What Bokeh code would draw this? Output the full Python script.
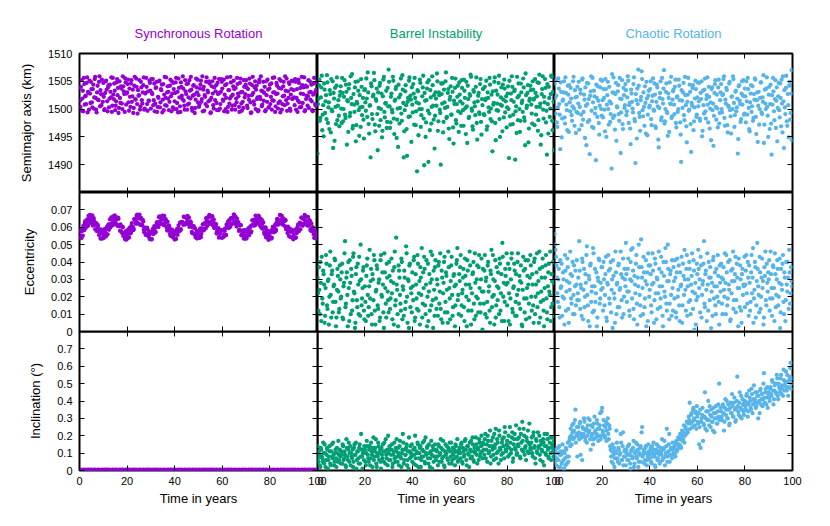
import numpy as np
from bokeh.plotting import figure
from bokeh.layouts import column, row
from bokeh.models import LinearAxis, FixedTicker, Range1d, CustomJSTickFormatter
from bokeh.embed import file_html
from bokeh.resources import INLINE

# ---------------- data ----------------
titles = ["Synchronous Rotation", "Barrel Instability", "Chaotic Rotation"]
colors = ["#9400d3", "#009e73", "#56b4e9"]
y_labels = ["Semimajor axis (km)", "Eccentricity", "Inclination (°)"]
x_label = "Time in years"
x_limits = (0, 100)
x_ticks = [0, 20, 40, 60, 80, 100]
y_limits = [(1485, 1510), (0, 0.08), (0, 0.8)]
y_ticks = [
    [1490, 1495, 1500, 1505, 1510],
    [0, 0.01, 0.02, 0.03, 0.04, 0.05, 0.06, 0.07],
    [0, 0.1, 0.2, 0.3, 0.4, 0.5, 0.6, 0.7],
]

# Each series is sampled evenly over the 100 years; the "*_b" lists are the
# samples taken half a step later than the main ones.

# semimajor axis (km)
sync_a = [
    1503.8, 1500.4, 1505.2, 1501.9, 1499.6, 1504.5, 1502.3, 1500.9, 1505.7, 1503.1, 1499.9, 1502.8, 1504.9, 1501.2, 1503.6, 1500.1, 1505.4, 1502.0, 1499.4, 1504.2, 1501.6, 1505.9, 1503.4, 1500.7, 1502.6,
    1504.7, 1499.8, 1502.9, 1505.1, 1501.4, 1503.9, 1500.3, 1504.4, 1502.1, 1499.5, 1505.6, 1501.8, 1503.3, 1500.6, 1504.8, 1502.5, 1499.3, 1505.0, 1501.1, 1503.7, 1500.0, 1504.1, 1502.7, 1505.5, 1500.8,
    1503.0, 1505.3, 1499.7, 1502.2, 1504.6, 1501.3, 1503.5, 1500.2, 1505.8, 1501.7, 1504.0, 1499.2, 1502.4, 1505.2, 1500.5, 1503.9, 1501.0, 1504.3, 1499.9, 1502.8, 1505.6, 1500.9, 1503.2, 1501.5, 1504.7,
    1500.1, 1502.9, 1505.4, 1501.6, 1499.6, 1503.8, 1504.9, 1500.4, 1502.0, 1505.1, 1501.2, 1503.4, 1499.4, 1504.5, 1502.6, 1500.7, 1505.7, 1503.0, 1501.9, 1499.8, 1504.2, 1502.3, 1505.0, 1500.3, 1503.6,
    1501.4, 1504.8, 1500.0, 1503.1, 1505.5, 1502.1, 1499.5, 1504.0, 1501.8, 1503.7, 1500.6, 1505.2, 1502.7, 1499.9, 1504.6, 1501.0, 1503.3, 1505.8, 1500.2, 1502.4, 1504.3, 1499.3, 1501.7, 1503.9, 1505.3,
    1502.5, 1500.8, 1504.4, 1501.3, 1505.9, 1503.5, 1499.7, 1502.2, 1504.9, 1500.5, 1503.0, 1505.0, 1501.6, 1499.4, 1504.1, 1502.8, 1500.1, 1505.6, 1503.2, 1501.1, 1504.7, 1499.8, 1502.9, 1500.9, 1505.4,
    1503.7, 1501.5, 1499.6, 1504.3, 1502.0, 1505.7, 1500.4, 1503.4, 1501.9, 1504.8, 1499.9, 1502.6, 1505.1, 1500.7, 1503.8, 1501.2, 1504.5, 1502.3, 1499.5, 1505.5, 1501.0, 1503.1, 1500.2, 1504.0, 1502.7,
    1505.2, 1500.6, 1503.6, 1501.7, 1504.6, 1499.3, 1502.5, 1505.8, 1501.4, 1503.9, 1500.0, 1504.2, 1502.1, 1499.8, 1505.3, 1501.8, 1503.3, 1500.8, 1504.9, 1502.9, 1499.6, 1505.0, 1501.3, 1503.5, 1500.3,
    1504.4, 1502.2, 1499.9, 1505.6, 1501.5, 1503.0, 1500.5, 1504.7, 1502.8, 1501.1, 1505.4, 1499.4, 1503.7, 1500.9, 1504.1, 1502.4, 1505.9, 1501.6, 1499.7, 1503.2, 1504.8, 1500.1, 1502.6, 1505.1, 1501.9,
    1503.4, 1500.7, 1504.9, 1502.0, 1499.5, 1505.3, 1501.2, 1503.8, 1500.4, 1504.3, 1502.7, 1505.7, 1499.8, 1501.8, 1504.0, 1502.3, 1500.2, 1505.0, 1503.1, 1501.4, 1499.6, 1504.6, 1502.9, 1500.6, 1503.5,
]
sync_a_b = [
    1501.5, 1504.0, 1499.7, 1503.3, 1505.6, 1500.8, 1502.4, 1504.7, 1499.4, 1502.9, 1505.1, 1501.1, 1503.6, 1500.3, 1504.4, 1502.1, 1505.8, 1499.9, 1503.0, 1501.7, 1504.9, 1500.5, 1502.7, 1505.3, 1501.3,
    1502.2, 1500.0, 1505.0, 1503.5, 1499.6, 1504.3, 1501.9, 1503.1, 1505.7, 1500.6, 1502.6, 1504.6, 1499.8, 1501.4, 1505.4, 1503.8, 1500.2, 1502.0, 1504.1, 1501.0, 1505.9, 1503.2, 1499.5, 1504.8, 1502.8,
    1504.5, 1501.2, 1503.7, 1500.4, 1505.2, 1502.3, 1499.3, 1504.2, 1501.8, 1505.5, 1500.9, 1503.4, 1502.5, 1499.9, 1504.9, 1501.6, 1503.0, 1505.7, 1500.1, 1502.9, 1504.0, 1499.7, 1501.5, 1505.1, 1503.3,
    1505.4, 1502.7, 1500.7, 1504.6, 1501.0, 1503.9, 1499.5, 1502.2, 1505.0, 1500.3, 1503.6, 1504.4, 1501.7, 1499.8, 1505.8, 1502.0, 1500.6, 1504.1, 1503.1, 1501.3, 1505.3, 1499.6, 1502.8, 1504.7, 1500.0,
    1502.9, 1505.6, 1501.1, 1499.4, 1503.8, 1500.5, 1504.8, 1502.4, 1505.9, 1501.5, 1499.9, 1503.2, 1504.5, 1500.8, 1502.1, 1505.2, 1501.9, 1503.5, 1499.7, 1504.2, 1502.6, 1500.2, 1505.5, 1503.0, 1501.2,
    1500.4, 1503.7, 1505.1, 1501.8, 1499.6, 1504.0, 1502.5, 1500.9, 1505.7, 1503.3, 1501.4, 1504.6, 1499.3, 1502.0, 1505.0, 1500.7, 1503.9, 1501.6, 1504.3, 1499.8, 1502.7, 1505.4, 1500.1, 1503.1, 1504.9,
    1501.7, 1505.3, 1502.6, 1500.0, 1504.5, 1499.5, 1503.4, 1501.0, 1505.8, 1502.3, 1500.6, 1504.1, 1503.6, 1499.9, 1501.9, 1505.6, 1502.8, 1500.4, 1504.7, 1503.0, 1499.7, 1501.3, 1505.2, 1502.1, 1504.4,
    1503.9, 1500.2, 1502.4, 1505.5, 1501.2, 1499.4, 1504.3, 1502.9, 1500.8, 1505.0, 1503.5, 1501.8, 1499.6, 1504.8, 1502.2, 1505.9, 1500.5, 1503.2, 1501.5, 1504.0, 1499.8, 1502.5, 1505.3, 1500.3, 1503.7,
    1500.9, 1504.6, 1501.6, 1503.0, 1505.7, 1499.5, 1502.7, 1504.2, 1500.1, 1503.8, 1501.4, 1505.1, 1499.9, 1502.3, 1504.9, 1500.7, 1503.3, 1505.5, 1501.0, 1502.0, 1504.5, 1499.7, 1503.6, 1501.8, 1505.0,
    1502.1, 1505.4, 1499.9, 1503.6, 1501.5, 1504.7, 1500.3, 1502.8, 1505.8, 1501.1, 1503.9, 1499.6, 1504.2, 1502.4, 1500.6, 1505.2, 1503.0, 1501.7, 1504.4, 1499.8, 1502.6, 1505.6, 1500.9, 1503.4, 1504.8,
]
barrel_a = [
    1492.0, 1501.8, 1505.3, 1498.4, 1503.9, 1496.2, 1500.7, 1504.6, 1499.3, 1502.5, 1506.1, 1497.5, 1501.2, 1503.4, 1495.8, 1499.9, 1505.0, 1502.9, 1494.3, 1500.4, 1504.2, 1498.0, 1501.6, 1496.9, 1503.1,
    1500.1, 1505.6, 1497.8, 1502.2, 1499.0, 1504.4, 1493.6, 1501.4, 1503.7, 1498.7, 1505.9, 1500.9, 1496.5, 1502.7, 1499.5, 1504.9, 1497.1, 1501.0, 1503.3, 1495.2, 1500.3, 1505.4, 1498.9, 1502.0, 1494.7,
    1503.6, 1499.7, 1501.9, 1506.6, 1497.3, 1500.6, 1491.3, 1504.1, 1498.2, 1502.6, 1505.2, 1496.0, 1501.5, 1499.1, 1503.0, 1497.0, 1504.7, 1500.0, 1494.9, 1502.3, 1505.8, 1498.5, 1501.1, 1496.6, 1503.8,
    1507.1, 1500.5, 1497.6, 1502.8, 1499.4, 1505.1, 1495.5, 1501.7, 1504.0, 1498.1, 1493.2, 1502.1, 1500.2, 1505.5, 1497.9, 1503.5, 1491.3, 1499.8, 1504.3, 1496.4, 1501.3, 1498.6, 1505.7, 1502.4, 1494.1,
    1500.8, 1504.5, 1497.2, 1502.0, 1499.6, 1488.8, 1503.2, 1501.0, 1505.3, 1496.8, 1500.0, 1503.9, 1498.3, 1502.9, 1495.0, 1501.6, 1504.8, 1490.5, 1499.2, 1503.4, 1497.4, 1505.9, 1500.6, 1502.5, 1498.8,
    1501.9, 1506.4, 1496.1, 1503.0, 1499.9, 1490.0, 1502.7, 1504.6, 1497.7, 1501.2, 1505.0, 1498.4, 1500.4, 1503.6, 1494.6, 1502.2, 1499.0, 1505.6, 1496.7, 1501.5, 1503.8, 1498.0, 1500.9, 1504.2, 1495.9,
    1502.6, 1499.3, 1505.2, 1501.0, 1497.0, 1503.3, 1500.2, 1504.9, 1493.9, 1501.8, 1498.6, 1502.4, 1505.8, 1499.7, 1496.3, 1503.1, 1500.5, 1504.0, 1497.5, 1501.4, 1502.9, 1499.1, 1505.4, 1495.4, 1500.7,
    1503.7, 1498.9, 1501.6, 1505.1, 1496.9, 1502.0, 1499.5, 1504.4, 1500.1, 1497.8, 1503.2, 1501.1, 1505.7, 1494.4, 1499.8, 1502.6, 1504.7, 1498.2, 1500.8, 1503.9, 1496.0, 1501.7, 1505.3, 1499.4, 1502.3,
    1500.3, 1504.1, 1491.2, 1498.7, 1502.8, 1505.9, 1497.3, 1501.3, 1503.5, 1499.6, 1495.7, 1502.1, 1504.6, 1500.0, 1497.9, 1503.0, 1501.5, 1505.5, 1498.5, 1493.5, 1502.5, 1500.6, 1504.3, 1496.5, 1501.9,
    1503.4, 1499.2, 1505.0, 1501.7, 1497.1, 1502.9, 1500.4, 1504.8, 1498.0, 1506.2, 1501.0, 1495.3, 1503.6, 1499.9, 1502.2, 1505.4, 1497.6, 1491.8, 1500.9, 1504.0, 1498.6, 1502.7, 1505.8, 1496.2, 1501.3,
]
barrel_a_b = [
    1500.9, 1504.3, 1497.9, 1502.1, 1506.0, 1499.0, 1495.1, 1503.5, 1501.4, 1498.2, 1504.8, 1500.3, 1496.4, 1502.7, 1505.4, 1499.6, 1493.0, 1501.9, 1503.8, 1497.3, 1505.7, 1500.6, 1498.8, 1502.4, 1504.1,
    1497.5, 1502.9, 1500.0, 1505.2, 1498.4, 1503.1, 1501.6, 1495.9, 1504.5, 1499.3, 1502.0, 1506.3, 1497.0, 1500.8, 1503.9, 1494.2, 1501.3, 1505.0, 1499.8, 1502.5, 1496.8, 1504.0, 1500.4, 1498.1, 1503.4,
    1501.2, 1505.5, 1498.6, 1503.0, 1495.6, 1500.7, 1504.6, 1499.1, 1502.3, 1506.5, 1497.2, 1501.8, 1503.7, 1492.6, 1500.2, 1504.2, 1498.0, 1502.8, 1496.1, 1505.3, 1499.5, 1501.0, 1503.3, 1497.7, 1500.5,
    1504.9, 1496.6, 1502.2, 1499.9, 1505.8, 1498.3, 1501.5, 1503.6, 1494.8, 1500.1, 1504.4, 1497.4, 1502.6, 1499.2, 1506.1, 1501.1, 1496.0, 1503.2, 1500.7, 1491.6, 1502.0, 1505.1, 1498.7, 1501.7, 1503.9,
    1499.4, 1502.8, 1505.6, 1497.1, 1501.2, 1503.4, 1495.3, 1500.0, 1504.7, 1498.9, 1502.3, 1506.0, 1489.9, 1501.5, 1497.6, 1503.7, 1499.7, 1505.2, 1496.2, 1502.1, 1500.4, 1504.3, 1498.1, 1492.9, 1503.0,
    1500.6, 1505.0, 1497.8, 1502.5, 1499.3, 1504.6, 1501.0, 1495.8, 1503.5, 1500.2, 1506.6, 1498.6, 1502.9, 1496.5, 1501.7, 1504.1, 1499.0, 1503.1, 1493.8, 1500.9, 1505.5, 1497.4, 1502.2, 1499.6, 1504.8,
    1501.4, 1497.0, 1503.8, 1499.8, 1505.3, 1502.0, 1495.5, 1500.5, 1504.2, 1498.4, 1502.7, 1506.2, 1500.1, 1496.9, 1503.4, 1501.2, 1498.9, 1505.7, 1494.5, 1502.4, 1499.4, 1504.5, 1497.7, 1501.8, 1503.6,
    1499.1, 1504.0, 1501.9, 1496.3, 1503.0, 1500.3, 1505.6, 1498.2, 1502.6, 1492.4, 1500.8, 1504.9, 1497.5, 1503.3, 1501.0, 1499.7, 1506.0, 1495.0, 1502.1, 1500.6, 1504.4, 1498.5, 1503.7, 1501.4, 1496.7,
    1502.8, 1500.0, 1505.1, 1497.2, 1501.6, 1504.0, 1499.0, 1503.2, 1490.9, 1500.5, 1505.8, 1498.0, 1502.4, 1495.9, 1504.6, 1501.1, 1499.5, 1503.9, 1497.9, 1506.4, 1500.2, 1502.9, 1494.0, 1501.5, 1504.2,
    1500.8, 1497.4, 1503.5, 1501.9, 1505.4, 1499.0, 1502.3, 1496.1, 1504.7, 1500.4, 1493.6, 1502.7, 1505.9, 1498.3, 1501.2, 1503.8, 1499.7, 1504.5, 1495.6, 1502.0, 1500.1, 1506.0, 1497.9, 1503.1, 1492.6,
]
chaos_a = [
    1504.6, 1499.2, 1502.4, 1496.8, 1505.5, 1500.9, 1492.8, 1503.1, 1498.3, 1501.7, 1505.0, 1497.4, 1502.9, 1499.8, 1504.2, 1495.9, 1501.2, 1503.8, 1498.9, 1500.5, 1505.8, 1497.0, 1502.1, 1499.5, 1504.0,
    1501.0, 1496.3, 1503.5, 1499.0, 1505.3, 1498.1, 1502.6, 1494.8, 1500.6, 1504.7, 1497.7, 1501.8, 1491.9, 1503.2, 1499.7, 1505.6, 1496.6, 1502.3, 1500.2, 1504.4, 1498.6, 1501.5, 1495.4, 1503.9, 1500.0,
    1505.1, 1498.5, 1502.0, 1496.0, 1503.6, 1500.8, 1504.9, 1497.2, 1501.4, 1499.1, 1489.3, 1503.0, 1505.7, 1498.8, 1502.7, 1494.3, 1500.3, 1504.3, 1497.9, 1501.9, 1499.4, 1505.2, 1496.4, 1502.5, 1500.7,
    1503.4, 1499.6, 1505.9, 1497.5, 1501.1, 1493.7, 1502.8, 1500.1, 1504.5, 1498.2, 1490.3, 1501.6, 1503.7, 1507.1, 1499.3, 1496.1, 1502.2, 1505.4, 1498.7, 1500.4, 1504.1, 1495.6, 1501.9, 1499.0, 1503.3,
    1500.6, 1505.0, 1497.1, 1502.4, 1499.9, 1504.6, 1496.9, 1501.3, 1503.9, 1494.5, 1500.2, 1502.9, 1498.0, 1505.6, 1501.0, 1507.0, 1497.8, 1503.1, 1499.5, 1495.2, 1502.0, 1504.8, 1500.9, 1498.4, 1501.7,
    1503.5, 1499.1, 1505.3, 1496.7, 1502.3, 1500.0, 1504.2, 1497.6, 1490.5, 1501.5, 1503.0, 1498.9, 1505.8, 1500.7, 1494.0, 1502.6, 1499.7, 1504.4, 1497.3, 1501.1, 1503.8, 1496.2, 1500.3, 1505.1, 1498.6,
    1502.1, 1500.5, 1504.7, 1497.9, 1501.8, 1495.1, 1503.3, 1499.2, 1505.5, 1498.3, 1502.5, 1500.8, 1504.0, 1496.5, 1501.2, 1503.6, 1499.8, 1493.4, 1502.9, 1505.2, 1498.1, 1500.1, 1503.9, 1497.4, 1501.6,
    1504.5, 1499.4, 1502.7, 1505.9, 1497.0, 1501.0, 1503.4, 1495.8, 1500.4, 1504.9, 1498.7, 1502.2, 1500.0, 1505.4, 1496.8, 1503.1, 1499.6, 1501.9, 1494.6, 1504.3, 1500.9, 1498.2, 1505.0, 1502.4, 1499.0,
    1503.7, 1497.6, 1501.4, 1505.6, 1500.2, 1496.0, 1502.8, 1499.5, 1504.1, 1498.4, 1501.7, 1505.3, 1495.5, 1503.0, 1500.6, 1497.2, 1502.0, 1504.8, 1499.1, 1501.3, 1493.9, 1503.5, 1500.0, 1505.7, 1498.8,
    1502.6, 1496.4, 1504.4, 1491.8, 1500.8, 1503.2, 1498.0, 1505.2, 1501.5, 1494.2, 1502.3, 1499.8, 1504.6, 1496.9, 1501.0, 1505.9, 1493.0, 1500.3, 1503.8, 1497.8, 1502.7, 1494.9, 1504.9, 1499.3, 1507.0,
]
chaos_a_b = [
    1502.0, 1505.2, 1497.6, 1500.3, 1503.7, 1499.0, 1504.8, 1494.9, 1501.5, 1503.0, 1498.5, 1505.7, 1500.8, 1496.2, 1502.6, 1504.3, 1499.6, 1501.9, 1497.9, 1505.0, 1500.1, 1503.4, 1495.7, 1502.2, 1499.3,
    1504.9, 1500.4, 1502.8, 1497.1, 1505.5, 1499.5, 1501.7, 1503.9, 1493.5, 1500.9, 1504.6, 1498.0, 1502.4, 1505.9, 1496.8, 1501.2, 1503.3, 1499.2, 1490.8, 1502.0, 1504.1, 1497.5, 1500.6, 1505.3, 1498.8,
    1501.6, 1503.6, 1499.9, 1505.4, 1495.0, 1502.5, 1500.0, 1504.0, 1497.7, 1501.0, 1506.3, 1498.4, 1502.9, 1496.3, 1504.7, 1500.5, 1503.2, 1499.1, 1505.6, 1492.1, 1501.8, 1497.3, 1503.8, 1500.2, 1504.5,
    1498.9, 1502.1, 1505.1, 1500.7, 1496.5, 1503.5, 1501.3, 1499.4, 1505.7, 1497.8, 1502.7, 1494.7, 1500.9, 1504.2, 1498.6, 1501.6, 1506.8, 1499.8, 1503.0, 1497.0, 1501.1, 1504.9, 1495.3, 1502.4, 1500.3,
    1503.6, 1498.2, 1501.4, 1505.5, 1499.7, 1502.6, 1496.6, 1504.4, 1500.5, 1493.1, 1502.0, 1505.0, 1498.5, 1501.8, 1503.7, 1497.4, 1500.0, 1504.6, 1499.3, 1502.8, 1495.9, 1501.0, 1505.8, 1498.7, 1503.2,
    1500.8, 1504.0, 1497.5, 1502.1, 1499.5, 1505.3, 1501.6, 1495.4, 1503.4, 1500.2, 1504.7, 1498.0, 1502.5, 1496.9, 1501.3, 1505.6, 1499.9, 1503.1, 1492.3, 1500.6, 1504.3, 1497.8, 1501.9, 1503.6, 1499.0,
    1504.8, 1501.4, 1498.3, 1502.9, 1505.0, 1496.1, 1500.7, 1503.5, 1499.6, 1501.8, 1505.7, 1497.6, 1502.2, 1500.1, 1494.4, 1503.9, 1501.0, 1498.8, 1504.5, 1500.4, 1502.6, 1496.7, 1505.3, 1499.3, 1503.0,
    1500.0, 1502.5, 1505.4, 1498.4, 1501.7, 1503.8, 1497.1, 1500.6, 1504.6, 1499.8, 1495.6, 1502.3, 1505.9, 1501.1, 1498.9, 1503.3, 1500.3, 1492.0, 1504.1, 1501.5, 1497.7, 1502.8, 1500.8, 1505.2, 1499.2,
    1502.3, 1505.0, 1499.0, 1503.6, 1496.4, 1501.2, 1504.3, 1500.5, 1497.9, 1502.7, 1505.5, 1498.6, 1501.6, 1494.1, 1503.1, 1500.0, 1504.8, 1499.4, 1502.1, 1506.1, 1497.2, 1501.0, 1503.7, 1500.4, 1495.0,
    1504.0, 1500.9, 1497.4, 1502.5, 1505.6, 1499.6, 1501.8, 1496.6, 1503.9, 1500.2, 1504.7, 1498.5, 1502.0, 1505.3, 1495.8, 1501.4, 1503.4, 1499.1, 1506.0, 1497.0, 1500.7, 1504.2, 1498.1, 1502.8, 1494.4,
]

# eccentricity
sync_e = [
    0.0536, 0.0575, 0.0537, 0.0579, 0.0608, 0.0583, 0.0635, 0.0611, 0.0645, 0.0610, 0.0649, 0.0671, 0.0630, 0.0645, 0.0609, 0.0652, 0.0613, 0.0624, 0.0578, 0.0615, 0.0575, 0.0586, 0.0535, 0.0567, 0.0537,
    0.0578, 0.0546, 0.0571, 0.0548, 0.0603, 0.0596, 0.0585, 0.0645, 0.0616, 0.0649, 0.0611, 0.0648, 0.0668, 0.0626, 0.0647, 0.0607, 0.0649, 0.0606, 0.0616, 0.0576, 0.0603, 0.0550, 0.0565, 0.0529, 0.0567,
    0.0549, 0.0586, 0.0542, 0.0586, 0.0568, 0.0624, 0.0604, 0.0590, 0.0647, 0.0625, 0.0665, 0.0625, 0.0652, 0.0673, 0.0613, 0.0645, 0.0610, 0.0633, 0.0571, 0.0593, 0.0561, 0.0597, 0.0554, 0.0576, 0.0531,
    0.0572, 0.0531, 0.0590, 0.0570, 0.0593, 0.0573, 0.0624, 0.0620, 0.0601, 0.0662, 0.0628, 0.0643, 0.0665, 0.0619, 0.0666, 0.0624, 0.0633, 0.0581, 0.0606, 0.0610, 0.0562, 0.0569, 0.0586, 0.0546, 0.0574,
    0.0529, 0.0568, 0.0584, 0.0556, 0.0611, 0.0587, 0.0581, 0.0631, 0.0629, 0.0614, 0.0659, 0.0616, 0.0656, 0.0648, 0.0619, 0.0656, 0.0618, 0.0627, 0.0573, 0.0598, 0.0607, 0.0557, 0.0541, 0.0579, 0.0549,
    0.0567, 0.0538, 0.0594, 0.0561, 0.0581, 0.0616, 0.0589, 0.0624, 0.0652, 0.0606, 0.0654, 0.0664, 0.0619, 0.0660, 0.0629, 0.0611, 0.0645, 0.0597, 0.0610, 0.0564, 0.0582, 0.0595, 0.0547, 0.0565, 0.0583,
    0.0540, 0.0584, 0.0556, 0.0594, 0.0556, 0.0608, 0.0632, 0.0597, 0.0625, 0.0651, 0.0618, 0.0653, 0.0673, 0.0632, 0.0659, 0.0604, 0.0623, 0.0630, 0.0586, 0.0612, 0.0554, 0.0581, 0.0556, 0.0584, 0.0534,
    0.0583, 0.0555, 0.0579, 0.0553, 0.0596, 0.0569, 0.0611, 0.0639, 0.0609, 0.0636, 0.0667, 0.0630, 0.0623, 0.0667, 0.0632, 0.0649, 0.0597, 0.0619, 0.0628, 0.0570, 0.0593, 0.0541, 0.0582, 0.0555, 0.0564,
    0.0545, 0.0579, 0.0540, 0.0602, 0.0570, 0.0601, 0.0577, 0.0628, 0.0648, 0.0627, 0.0622, 0.0669, 0.0642, 0.0616, 0.0651, 0.0634, 0.0642, 0.0589, 0.0592, 0.0603, 0.0549, 0.0590, 0.0573, 0.0542, 0.0580,
    0.0561, 0.0536, 0.0587, 0.0565, 0.0601, 0.0576, 0.0618, 0.0588, 0.0655, 0.0619, 0.0647, 0.0621, 0.0663, 0.0635, 0.0612, 0.0660, 0.0609, 0.0635, 0.0580, 0.0591, 0.0601, 0.0559, 0.0538, 0.0573, 0.0543,
]
sync_e_b = [
    0.0582, 0.0552, 0.0587, 0.0551, 0.0596, 0.0622, 0.0595, 0.0625, 0.0607, 0.0666, 0.0638, 0.0625, 0.0658, 0.0668, 0.0623, 0.0635, 0.0588, 0.0624, 0.0592, 0.0607, 0.0555, 0.0576, 0.0588, 0.0534, 0.0561,
    0.0538, 0.0590, 0.0565, 0.0591, 0.0559, 0.0617, 0.0617, 0.0599, 0.0656, 0.0625, 0.0663, 0.0618, 0.0645, 0.0657, 0.0614, 0.0655, 0.0608, 0.0580, 0.0606, 0.0568, 0.0600, 0.0562, 0.0540, 0.0577, 0.0529,
    0.0566, 0.0539, 0.0596, 0.0564, 0.0608, 0.0593, 0.0583, 0.0646, 0.0641, 0.0620, 0.0672, 0.0650, 0.0619, 0.0653, 0.0656, 0.0615, 0.0642, 0.0585, 0.0598, 0.0556, 0.0588, 0.0588, 0.0546, 0.0557, 0.0573,
    0.0531, 0.0576, 0.0560, 0.0607, 0.0569, 0.0603, 0.0629, 0.0610, 0.0658, 0.0632, 0.0619, 0.0661, 0.0667, 0.0612, 0.0643, 0.0646, 0.0599, 0.0631, 0.0584, 0.0596, 0.0551, 0.0571, 0.0584, 0.0541, 0.0557,
    0.0574, 0.0533, 0.0590, 0.0582, 0.0576, 0.0626, 0.0589, 0.0631, 0.0628, 0.0661, 0.0616, 0.0657, 0.0628, 0.0666, 0.0627, 0.0602, 0.0634, 0.0611, 0.0566, 0.0603, 0.0562, 0.0593, 0.0552, 0.0535, 0.0568,
    0.0552, 0.0582, 0.0543, 0.0593, 0.0617, 0.0582, 0.0622, 0.0593, 0.0635, 0.0657, 0.0629, 0.0671, 0.0621, 0.0635, 0.0664, 0.0634, 0.0596, 0.0618, 0.0618, 0.0574, 0.0590, 0.0540, 0.0569, 0.0583, 0.0539,
    0.0580, 0.0545, 0.0579, 0.0554, 0.0616, 0.0599, 0.0596, 0.0643, 0.0603, 0.0652, 0.0649, 0.0623, 0.0672, 0.0632, 0.0616, 0.0650, 0.0618, 0.0579, 0.0611, 0.0612, 0.0560, 0.0573, 0.0535, 0.0575, 0.0551,
    0.0535, 0.0569, 0.0595, 0.0567, 0.0605, 0.0575, 0.0640, 0.0617, 0.0644, 0.0611, 0.0665, 0.0646, 0.0624, 0.0659, 0.0609, 0.0636, 0.0643, 0.0591, 0.0599, 0.0560, 0.0599, 0.0548, 0.0574, 0.0527, 0.0575,
    0.0569, 0.0534, 0.0586, 0.0602, 0.0581, 0.0614, 0.0585, 0.0647, 0.0614, 0.0641, 0.0671, 0.0635, 0.0665, 0.0617, 0.0646, 0.0607, 0.0639, 0.0602, 0.0567, 0.0598, 0.0578, 0.0544, 0.0586, 0.0545, 0.0531,
    0.0543, 0.0583, 0.0540, 0.0586, 0.0615, 0.0579, 0.0627, 0.0614, 0.0655, 0.0608, 0.0654, 0.0671, 0.0632, 0.0660, 0.0610, 0.0630, 0.0641, 0.0586, 0.0622, 0.0577, 0.0587, 0.0539, 0.0577, 0.0563, 0.0533,
]
barrel_e = [
    0.031, 0.012, 0.024, 0.040, 0.006, 0.019, 0.035, 0.027, 0.009, 0.044, 0.015, 0.029, 0.004, 0.038, 0.021, 0.033, 0.011, 0.026, 0.042, 0.017, 0.008, 0.036, 0.023, 0.013, 0.030,
    0.020, 0.039, 0.007, 0.028, 0.052, 0.016, 0.034, 0.003, 0.025, 0.041, 0.010, 0.032, 0.018, 0.045, 0.022, 0.005, 0.037, 0.014, 0.027, 0.043, 0.009, 0.030, 0.019, 0.035, 0.012,
    0.026, 0.006, 0.038, 0.021, 0.014, 0.047, 0.029, 0.010, 0.033, 0.018, 0.041, 0.004, 0.024, 0.036, 0.013, 0.030, 0.008, 0.044, 0.020, 0.027, 0.002, 0.034, 0.016, 0.039, 0.023,
    0.011, 0.032, 0.019, 0.042, 0.007, 0.028, 0.037, 0.015, 0.054, 0.024, 0.003, 0.035, 0.021, 0.012, 0.040, 0.026, 0.009, 0.031, 0.017, 0.045, 0.005, 0.029, 0.038, 0.014, 0.022,
    0.034, 0.018, 0.043, 0.008, 0.027, 0.013, 0.039, 0.022, 0.004, 0.031, 0.048, 0.016, 0.025, 0.036, 0.010, 0.041, 0.020, 0.006, 0.033, 0.028, 0.015, 0.044, 0.002, 0.024, 0.037,
    0.019, 0.030, 0.009, 0.040, 0.023, 0.013, 0.035, 0.005, 0.028, 0.043, 0.017, 0.032, 0.011, 0.046, 0.025, 0.007, 0.038, 0.021, 0.014, 0.033, 0.003, 0.027, 0.041, 0.018, 0.010,
    0.029, 0.044, 0.015, 0.024, 0.036, 0.006, 0.032, 0.020, 0.041, 0.012, 0.027, 0.038, 0.004, 0.022, 0.034, 0.016, 0.045, 0.009, 0.030, 0.019, 0.037, 0.025, 0.011, 0.042, 0.001,
    0.023, 0.035, 0.010, 0.031, 0.017, 0.040, 0.026, 0.005, 0.033, 0.014, 0.044, 0.021, 0.029, 0.008, 0.037, 0.018, 0.025, 0.042, 0.012, 0.033, 0.051, 0.020, 0.006, 0.036, 0.027,
    0.015, 0.039, 0.022, 0.004, 0.030, 0.045, 0.011, 0.026, 0.035, 0.017, 0.009, 0.040, 0.024, 0.032, 0.013, 0.028, 0.003, 0.043, 0.019, 0.036, 0.007, 0.025, 0.041, 0.016, 0.031,
    0.038, 0.012, 0.027, 0.005, 0.042, 0.020, 0.034, 0.014, 0.029, 0.046, 0.008, 0.023, 0.037, 0.018, 0.003, 0.031, 0.044, 0.011, 0.026, 0.039, 0.021, 0.006, 0.033, 0.016, 0.028,
]
barrel_e_b = [
    0.022, 0.037, 0.010, 0.028, 0.043, 0.016, 0.033, 0.005, 0.025, 0.039, 0.013, 0.030, 0.020, 0.046, 0.008, 0.035, 0.017, 0.027, 0.041, 0.003, 0.024, 0.032, 0.011, 0.038, 0.019,
    0.034, 0.008, 0.026, 0.045, 0.014, 0.031, 0.021, 0.040, 0.006, 0.028, 0.036, 0.012, 0.043, 0.023, 0.002, 0.033, 0.018, 0.039, 0.010, 0.029, 0.050, 0.015, 0.025, 0.037, 0.007,
    0.017, 0.032, 0.042, 0.009, 0.026, 0.019, 0.036, 0.004, 0.030, 0.044, 0.012, 0.023, 0.038, 0.015, 0.028, 0.006, 0.041, 0.021, 0.034, 0.011, 0.045, 0.025, 0.008, 0.031, 0.018,
    0.040, 0.013, 0.029, 0.022, 0.035, 0.004, 0.046, 0.018, 0.027, 0.010, 0.038, 0.031, 0.016, 0.042, 0.007, 0.024, 0.035, 0.013, 0.049, 0.020, 0.030, 0.002, 0.039, 0.025, 0.011,
    0.026, 0.041, 0.006, 0.033, 0.019, 0.044, 0.012, 0.029, 0.037, 0.021, 0.008, 0.034, 0.043, 0.015, 0.027, 0.003, 0.039, 0.023, 0.012, 0.046, 0.030, 0.018, 0.035, 0.009, 0.041,
    0.013, 0.027, 0.038, 0.016, 0.045, 0.007, 0.031, 0.022, 0.040, 0.011, 0.034, 0.024, 0.005, 0.037, 0.019, 0.029, 0.043, 0.009, 0.032, 0.026, 0.015, 0.039, 0.048, 0.021, 0.033,
    0.037, 0.009, 0.022, 0.031, 0.014, 0.042, 0.027, 0.003, 0.035, 0.018, 0.046, 0.025, 0.012, 0.033, 0.040, 0.007, 0.028, 0.020, 0.038, 0.011, 0.044, 0.016, 0.030, 0.023, 0.036,
    0.016, 0.044, 0.029, 0.008, 0.038, 0.023, 0.012, 0.035, 0.047, 0.020, 0.030, 0.004, 0.041, 0.015, 0.026, 0.034, 0.010, 0.039, 0.022, 0.006, 0.043, 0.028, 0.017, 0.032, 0.045,
    0.028, 0.006, 0.036, 0.019, 0.042, 0.013, 0.025, 0.039, 0.009, 0.033, 0.021, 0.045, 0.016, 0.029, 0.038, 0.004, 0.024, 0.035, 0.011, 0.041, 0.019, 0.032, 0.027, 0.008, 0.044,
    0.020, 0.033, 0.015, 0.040, 0.010, 0.027, 0.045, 0.022, 0.005, 0.036, 0.017, 0.031, 0.042, 0.012, 0.025, 0.038, 0.019, 0.007, 0.034, 0.023, 0.046, 0.014, 0.029, 0.040, 0.009,
]
chaos_e = [
    0.056, 0.047, 0.038, 0.022, 0.030, 0.014, 0.041, 0.026, 0.009, 0.034, 0.019, 0.044, 0.012, 0.029, 0.037, 0.005, 0.024, 0.033, 0.016, 0.040, 0.021, 0.010, 0.035, 0.027, 0.018,
    0.031, 0.052, 0.013, 0.025, 0.042, 0.007, 0.036, 0.020, 0.028, 0.049, 0.015, 0.032, 0.003, 0.039, 0.023, 0.011, 0.045, 0.026, 0.017, 0.034, 0.008, 0.029, 0.041, 0.019, 0.024,
    0.037, 0.012, 0.030, 0.021, 0.043, 0.006, 0.027, 0.035, 0.016, 0.040, 0.024, 0.002, 0.032, 0.019, 0.046, 0.010, 0.028, 0.038, 0.014, 0.025, 0.033, 0.008, 0.042, 0.020, 0.030,
    0.051, 0.017, 0.036, 0.023, 0.009, 0.040, 0.029, 0.048, 0.013, 0.032, 0.022, 0.044, 0.004, 0.026, 0.037, 0.015, 0.053, 0.031, 0.010, 0.034, 0.019, 0.041, 0.027, 0.006, 0.038,
    0.024, 0.033, 0.011, 0.045, 0.028, 0.018, 0.039, 0.007, 0.030, 0.022, 0.036, 0.014, 0.043, 0.026, 0.003, 0.032, 0.020, 0.040, 0.012, 0.050, 0.029, 0.016, 0.035, 0.009, 0.025,
    0.037, 0.019, 0.031, 0.008, 0.042, 0.024, 0.015, 0.034, 0.027, 0.005, 0.039, 0.021, 0.030, 0.012, 0.044, 0.026, 0.017, 0.036, 0.010, 0.032, 0.023, 0.041, 0.001, 0.028, 0.018,
    0.033, 0.047, 0.025, 0.011, 0.038, 0.021, 0.029, 0.052, 0.014, 0.035, 0.006, 0.027, 0.040, 0.018, 0.031, 0.023, 0.009, 0.043, 0.026, 0.015, 0.036, 0.020, 0.032, 0.004, 0.028,
    0.039, 0.016, 0.030, 0.024, 0.045, 0.010, 0.034, 0.019, 0.027, 0.041, 0.007, 0.022, 0.036, 0.013, 0.029, 0.043, 0.018, 0.031, 0.003, 0.025, 0.038, 0.012, 0.033, 0.021, 0.026,
    0.014, 0.035, 0.022, 0.040, 0.009, 0.028, 0.017, 0.044, 0.031, 0.005, 0.024, 0.037, 0.015, 0.051, 0.026, 0.011, 0.034, 0.020, 0.042, 0.029, 0.008, 0.032, 0.018, 0.039, 0.023,
    0.030, 0.012, 0.046, 0.025, 0.019, 0.037, 0.006, 0.033, 0.021, 0.041, 0.015, 0.028, 0.002, 0.036, 0.024, 0.044, 0.010, 0.031, 0.018, 0.027, 0.040, 0.013, 0.034, 0.022, 0.029,
]
chaos_e_b = [
    0.050, 0.043, 0.031, 0.017, 0.036, 0.008, 0.025, 0.039, 0.020, 0.030, 0.004, 0.035, 0.023, 0.042, 0.013, 0.028, 0.046, 0.019, 0.032, 0.010, 0.038, 0.026, 0.015, 0.041, 0.022,
    0.018, 0.035, 0.027, 0.009, 0.040, 0.024, 0.014, 0.033, 0.044, 0.021, 0.006, 0.030, 0.038, 0.017, 0.026, 0.048, 0.012, 0.036, 0.022, 0.003, 0.031, 0.042, 0.016, 0.028, 0.037,
    0.025, 0.040, 0.015, 0.033, 0.008, 0.028, 0.044, 0.019, 0.036, 0.011, 0.030, 0.041, 0.022, 0.005, 0.034, 0.027, 0.014, 0.039, 0.024, 0.046, 0.018, 0.031, 0.010, 0.036, 0.026,
    0.033, 0.023, 0.042, 0.012, 0.030, 0.047, 0.019, 0.035, 0.007, 0.027, 0.039, 0.016, 0.031, 0.050, 0.021, 0.009, 0.037, 0.025, 0.043, 0.014, 0.029, 0.003, 0.034, 0.045, 0.020,
    0.038, 0.015, 0.027, 0.035, 0.005, 0.042, 0.022, 0.031, 0.013, 0.046, 0.026, 0.019, 0.034, 0.009, 0.040, 0.023, 0.048, 0.016, 0.029, 0.036, 0.007, 0.033, 0.021, 0.041, 0.012,
    0.029, 0.041, 0.011, 0.034, 0.020, 0.038, 0.006, 0.026, 0.043, 0.015, 0.032, 0.047, 0.024, 0.036, 0.009, 0.030, 0.040, 0.018, 0.027, 0.045, 0.013, 0.035, 0.022, 0.004, 0.039,
    0.020, 0.036, 0.030, 0.043, 0.008, 0.027, 0.039, 0.016, 0.033, 0.024, 0.045, 0.012, 0.031, 0.037, 0.002, 0.028, 0.041, 0.019, 0.034, 0.010, 0.026, 0.044, 0.017, 0.038, 0.023,
    0.031, 0.010, 0.037, 0.020, 0.028, 0.044, 0.015, 0.040, 0.024, 0.006, 0.035, 0.029, 0.046, 0.018, 0.033, 0.011, 0.039, 0.025, 0.042, 0.014, 0.030, 0.005, 0.036, 0.027, 0.043,
    0.027, 0.044, 0.016, 0.031, 0.038, 0.012, 0.034, 0.022, 0.048, 0.019, 0.040, 0.008, 0.029, 0.036, 0.021, 0.043, 0.013, 0.031, 0.025, 0.004, 0.037, 0.046, 0.015, 0.028, 0.034,
    0.041, 0.019, 0.033, 0.009, 0.038, 0.025, 0.045, 0.014, 0.030, 0.036, 0.020, 0.042, 0.011, 0.027, 0.039, 0.017, 0.034, 0.006, 0.040, 0.023, 0.031, 0.047, 0.016, 0.037, 0.026,
]

# inclination (degrees)
sync_i = [
    0.004, 0.005, 0.004, 0.003, 0.004, 0.005, 0.004, 0.004, 0.003, 0.005, 0.004, 0.004, 0.005, 0.003, 0.004, 0.004, 0.005, 0.004, 0.003, 0.004, 0.005, 0.004, 0.004, 0.003, 0.005,
    0.004, 0.004, 0.005, 0.003, 0.004, 0.005, 0.004, 0.003, 0.004, 0.004, 0.005, 0.004, 0.003, 0.005, 0.004, 0.004, 0.003, 0.005, 0.004, 0.004, 0.005, 0.003, 0.004, 0.004, 0.005,
    0.003, 0.004, 0.005, 0.004, 0.004, 0.003, 0.005, 0.004, 0.004, 0.005, 0.003, 0.004, 0.004, 0.005, 0.004, 0.003, 0.004, 0.005, 0.004, 0.004, 0.003, 0.005, 0.004, 0.004, 0.005,
    0.004, 0.003, 0.004, 0.005, 0.004, 0.004, 0.005, 0.003, 0.004, 0.004, 0.005, 0.004, 0.003, 0.004, 0.005, 0.004, 0.004, 0.003, 0.005, 0.004, 0.004, 0.005, 0.003, 0.004, 0.004,
    0.005, 0.004, 0.004, 0.003, 0.005, 0.004, 0.004, 0.005, 0.003, 0.004, 0.004, 0.005, 0.004, 0.003, 0.004, 0.005, 0.004, 0.004, 0.003, 0.005, 0.004, 0.004, 0.005, 0.003, 0.004,
    0.004, 0.005, 0.003, 0.004, 0.004, 0.005, 0.004, 0.003, 0.005, 0.004, 0.004, 0.003, 0.005, 0.004, 0.004, 0.005, 0.003, 0.004, 0.004, 0.005, 0.004, 0.003, 0.004, 0.005, 0.004,
    0.003, 0.004, 0.005, 0.004, 0.004, 0.003, 0.005, 0.004, 0.004, 0.005, 0.003, 0.004, 0.004, 0.005, 0.004, 0.003, 0.004, 0.005, 0.004, 0.004, 0.003, 0.005, 0.004, 0.004, 0.005,
    0.004, 0.004, 0.003, 0.005, 0.004, 0.004, 0.005, 0.003, 0.004, 0.004, 0.005, 0.004, 0.003, 0.004, 0.005, 0.004, 0.004, 0.003, 0.005, 0.004, 0.004, 0.005, 0.003, 0.004, 0.004,
    0.005, 0.003, 0.004, 0.004, 0.005, 0.004, 0.003, 0.004, 0.005, 0.004, 0.004, 0.003, 0.005, 0.004, 0.004, 0.005, 0.003, 0.004, 0.004, 0.005, 0.004, 0.003, 0.004, 0.005, 0.004,
    0.004, 0.005, 0.004, 0.003, 0.004, 0.005, 0.004, 0.004, 0.003, 0.005, 0.004, 0.004, 0.005, 0.003, 0.004, 0.004, 0.005, 0.004, 0.003, 0.004, 0.005, 0.004, 0.004, 0.003, 0.005,
]
barrel_i = [
    0.14, 0.05, 0.09, 0.02, 0.12, 0.07, 0.16, 0.04, 0.10, 0.06, 0.13, 0.01, 0.08, 0.11, 0.03, 0.15, 0.07, 0.09, 0.05, 0.12, 0.02, 0.10, 0.17, 0.06, 0.08,
    0.11, 0.04, 0.14, 0.07, 0.09, 0.02, 0.13, 0.06, 0.16, 0.10, 0.03, 0.08, 0.12, 0.05, 0.15, 0.09, 0.01, 0.11, 0.07, 0.13, 0.04, 0.21, 0.08, 0.10, 0.06,
    0.12, 0.03, 0.17, 0.09, 0.05, 0.14, 0.07, 0.11, 0.02, 0.19, 0.08, 0.13, 0.04, 0.10, 0.16, 0.06, 0.12, 0.01, 0.09, 0.15, 0.05, 0.11, 0.18, 0.07, 0.03,
    0.10, 0.14, 0.06, 0.12, 0.02, 0.09, 0.16, 0.05, 0.11, 0.08, 0.13, 0.03, 0.17, 0.07, 0.10, 0.21, 0.04, 0.12, 0.09, 0.15, 0.06, 0.01, 0.11, 0.14, 0.08,
    0.05, 0.12, 0.09, 0.20, 0.03, 0.10, 0.15, 0.07, 0.13, 0.02, 0.08, 0.16, 0.11, 0.05, 0.19, 0.09, 0.14, 0.04, 0.10, 0.07, 0.17, 0.01, 0.12, 0.08, 0.15,
    0.06, 0.11, 0.03, 0.14, 0.09, 0.18, 0.05, 0.12, 0.08, 0.02, 0.15, 0.10, 0.07, 0.13, 0.04, 0.11, 0.16, 0.06, 0.09, 0.12, 0.03, 0.14, 0.08, 0.05, 0.10,
    0.13, 0.07, 0.16, 0.04, 0.11, 0.09, 0.18, 0.06, 0.14, 0.10, 0.02, 0.12, 0.17, 0.08, 0.15, 0.05, 0.11, 0.19, 0.09, 0.13, 0.06, 0.16, 0.10, 0.20, 0.07,
    0.15, 0.09, 0.21, 0.12, 0.05, 0.17, 0.11, 0.23, 0.08, 0.14, 0.19, 0.06, 0.13, 0.24, 0.10, 0.16, 0.04, 0.20, 0.12, 0.09, 0.18, 0.14, 0.07, 0.22, 0.11,
    0.17, 0.08, 0.13, 0.25, 0.10, 0.19, 0.05, 0.15, 0.21, 0.12, 0.09, 0.18, 0.14, 0.24, 0.07, 0.16, 0.28, 0.11, 0.20, 0.13, 0.06, 0.17, 0.23, 0.10, 0.15,
    0.12, 0.19, 0.08, 0.22, 0.14, 0.04, 0.17, 0.10, 0.13, 0.20, 0.06, 0.15, 0.11, 0.18, 0.03, 0.14, 0.09, 0.21, 0.12, 0.07, 0.16, 0.10, 0.19, 0.13, 0.08,
]
barrel_i_b = [
    0.07, 0.11, 0.03, 0.13, 0.08, 0.05, 0.10, 0.15, 0.02, 0.09, 0.12, 0.06, 0.14, 0.04, 0.11, 0.08, 0.16, 0.03, 0.10, 0.07, 0.13, 0.05, 0.09, 0.12, 0.04,
    0.09, 0.15, 0.06, 0.11, 0.03, 0.18, 0.08, 0.12, 0.05, 0.14, 0.10, 0.07, 0.02, 0.13, 0.09, 0.16, 0.06, 0.11, 0.04, 0.15, 0.08, 0.12, 0.01, 0.10, 0.14,
    0.05, 0.10, 0.14, 0.07, 0.12, 0.03, 0.16, 0.09, 0.13, 0.06, 0.11, 0.18, 0.02, 0.08, 0.14, 0.10, 0.05, 0.13, 0.07, 0.11, 0.16, 0.04, 0.09, 0.12, 0.20,
    0.06, 0.12, 0.09, 0.15, 0.04, 0.11, 0.07, 0.13, 0.18, 0.05, 0.10, 0.14, 0.08, 0.02, 0.12, 0.16, 0.06, 0.09, 0.13, 0.03, 0.11, 0.19, 0.07, 0.10, 0.15,
    0.09, 0.04, 0.13, 0.07, 0.11, 0.16, 0.02, 0.10, 0.14, 0.06, 0.12, 0.08, 0.17, 0.04, 0.10, 0.13, 0.07, 0.15, 0.02, 0.11, 0.09, 0.14, 0.05, 0.12, 0.08,
    0.12, 0.08, 0.15, 0.05, 0.10, 0.13, 0.07, 0.17, 0.03, 0.11, 0.09, 0.14, 0.06, 0.12, 0.16, 0.08, 0.04, 0.13, 0.10, 0.07, 0.15, 0.11, 0.18, 0.06, 0.12,
    0.10, 0.15, 0.05, 0.13, 0.08, 0.17, 0.12, 0.03, 0.14, 0.09, 0.16, 0.07, 0.11, 0.19, 0.06, 0.13, 0.10, 0.15, 0.04, 0.12, 0.18, 0.08, 0.14, 0.11, 0.16,
    0.12, 0.18, 0.07, 0.15, 0.20, 0.10, 0.14, 0.04, 0.17, 0.12, 0.09, 0.21, 0.15, 0.07, 0.18, 0.11, 0.23, 0.13, 0.06, 0.16, 0.10, 0.19, 0.25, 0.12, 0.15,
    0.14, 0.20, 0.09, 0.16, 0.12, 0.22, 0.07, 0.18, 0.13, 0.26, 0.10, 0.15, 0.19, 0.08, 0.21, 0.12, 0.17, 0.24, 0.09, 0.14, 0.19, 0.11, 0.16, 0.27, 0.13,
    0.16, 0.10, 0.20, 0.13, 0.07, 0.18, 0.11, 0.22, 0.14, 0.09, 0.17, 0.12, 0.05, 0.16, 0.21, 0.10, 0.14, 0.18, 0.08, 0.13, 0.19, 0.06, 0.15, 0.11, 0.17,
]
chaos_i = [
    0.08, 0.12, 0.03, 0.10, 0.06, 0.14, 0.02, 0.09, 0.05, 0.11, 0.01, 0.07, 0.13, 0.04, 0.16, 0.08, 0.19, 0.24, 0.15, 0.22, 0.27, 0.19, 0.35, 0.21, 0.08,
    0.25, 0.18, 0.28, 0.21, 0.06, 0.24, 0.30, 0.19, 0.23, 0.16, 0.26, 0.22, 0.29, 0.12, 0.20, 0.25, 0.18, 0.31, 0.23, 0.21, 0.27, 0.17, 0.24, 0.33, 0.20,
    0.36, 0.22, 0.26, 0.19, 0.28, 0.23, 0.30, 0.18, 0.24, 0.12, 0.05, 0.15, 0.09, 0.02, 0.11, 0.23, 0.07, 0.13, 0.04, 0.10, 0.16, 0.06, 0.22, 0.08, 0.12,
    0.03, 0.10, 0.14, 0.06, 0.09, 0.01, 0.12, 0.07, 0.17, 0.04, 0.11, 0.08, 0.15, 0.02, 0.10, 0.13, 0.05, 0.25, 0.09, 0.12, 0.06, 0.14, 0.03, 0.08, 0.11,
    0.07, 0.13, 0.04, 0.10, 0.16, 0.08, 0.02, 0.12, 0.06, 0.14, 0.09, 0.05, 0.11, 0.18, 0.07, 0.13, 0.03, 0.10, 0.24, 0.08, 0.15, 0.05, 0.12, 0.09, 0.16,
    0.10, 0.14, 0.08, 0.17, 0.12, 0.19, 0.15, 0.21, 0.13, 0.23, 0.18, 0.26, 0.20, 0.24, 0.28, 0.22, 0.31, 0.39, 0.27, 0.33, 0.25, 0.36, 0.29, 0.34, 0.24,
    0.31, 0.27, 0.15, 0.35, 0.28, 0.32, 0.17, 0.26, 0.45, 0.30, 0.23, 0.34, 0.29, 0.37, 0.25, 0.31, 0.28, 0.36, 0.22, 0.33, 0.30, 0.27, 0.38, 0.50, 0.29,
    0.34, 0.29, 0.38, 0.23, 0.36, 0.32, 0.40, 0.30, 0.35, 0.27, 0.39, 0.33, 0.37, 0.31, 0.42, 0.28, 0.36, 0.54, 0.34, 0.39, 0.31, 0.43, 0.35, 0.38, 0.32,
    0.40, 0.35, 0.44, 0.31, 0.38, 0.42, 0.36, 0.47, 0.33, 0.41, 0.39, 0.45, 0.37, 0.43, 0.30, 0.40, 0.46, 0.38, 0.44, 0.41, 0.56, 0.39, 0.47, 0.42, 0.36,
    0.45, 0.40, 0.48, 0.43, 0.51, 0.38, 0.46, 0.50, 0.44, 0.53, 0.41, 0.48, 0.45, 0.55, 0.47, 0.43, 0.52, 0.49, 0.57, 0.46, 0.51, 0.48, 0.54, 0.62, 0.50,
]
chaos_i_b = [
    0.05, 0.10, 0.07, 0.13, 0.02, 0.09, 0.11, 0.04, 0.15, 0.06, 0.10, 0.03, 0.12, 0.08, 0.05, 0.17, 0.14, 0.20, 0.26, 0.18, 0.23, 0.29, 0.16, 0.25, 0.20,
    0.22, 0.27, 0.09, 0.19, 0.25, 0.21, 0.28, 0.17, 0.24, 0.20, 0.30, 0.23, 0.18, 0.26, 0.21, 0.15, 0.27, 0.22, 0.19, 0.29, 0.24, 0.20, 0.26, 0.18, 0.34,
    0.23, 0.29, 0.20, 0.25, 0.17, 0.27, 0.21, 0.26, 0.14, 0.08, 0.11, 0.04, 0.13, 0.07, 0.10, 0.16, 0.05, 0.12, 0.09, 0.21, 0.06, 0.14, 0.03, 0.11, 0.08,
    0.12, 0.06, 0.09, 0.15, 0.04, 0.11, 0.08, 0.13, 0.02, 0.10, 0.16, 0.07, 0.12, 0.05, 0.09, 0.14, 0.22, 0.08, 0.11, 0.04, 0.13, 0.10, 0.06, 0.15, 0.09,
    0.11, 0.05, 0.14, 0.08, 0.12, 0.03, 0.10, 0.15, 0.07, 0.11, 0.04, 0.13, 0.09, 0.06, 0.12, 0.17, 0.08, 0.14, 0.05, 0.11, 0.21, 0.09, 0.13, 0.07, 0.12,
    0.13, 0.09, 0.16, 0.11, 0.15, 0.13, 0.18, 0.14, 0.20, 0.17, 0.22, 0.16, 0.25, 0.21, 0.23, 0.27, 0.29, 0.24, 0.32, 0.28, 0.35, 0.30, 0.26, 0.33, 0.37,
    0.28, 0.33, 0.25, 0.13, 0.30, 0.36, 0.27, 0.31, 0.24, 0.34, 0.29, 0.40, 0.26, 0.32, 0.35, 0.28, 0.23, 0.33, 0.30, 0.37, 0.27, 0.34, 0.31, 0.29, 0.36,
    0.31, 0.37, 0.33, 0.28, 0.41, 0.35, 0.30, 0.38, 0.26, 0.36, 0.33, 0.44, 0.31, 0.39, 0.35, 0.29, 0.40, 0.37, 0.32, 0.45, 0.36, 0.30, 0.41, 0.34, 0.39,
    0.37, 0.43, 0.39, 0.34, 0.46, 0.40, 0.35, 0.44, 0.38, 0.49, 0.41, 0.36, 0.45, 0.39, 0.43, 0.33, 0.47, 0.41, 0.37, 0.50, 0.42, 0.45, 0.38, 0.48, 0.44,
    0.42, 0.47, 0.44, 0.52, 0.46, 0.41, 0.49, 0.45, 0.55, 0.43, 0.50, 0.47, 0.53, 0.44, 0.49, 0.58, 0.46, 0.51, 0.48, 0.55, 0.43, 0.52, 0.59, 0.47, 0.53,
]

panels = [
    [[sync_a, sync_a_b], [barrel_a, barrel_a_b], [chaos_a, chaos_a_b]],
    [[sync_e, sync_e_b], [barrel_e, barrel_e_b], [chaos_e, chaos_e_b]],
    [[sync_i], [barrel_i, barrel_i_b], [chaos_i, chaos_i_b]],
]

# ---------------- styling ----------------
FONT = "Liberation Sans"
FRAME_W = [238, 237, 238]
FRAME_H = 139
LEFT_B, TOP_B, RIGHT_B = 79, 53, 20
OVER_X, OVER_Y = 12, 6

fmt_code = "return (+tick.toFixed(4)).toString();"


def make_axis(ticks, labelled, label=None, side="left"):
    ax = LinearAxis(ticker=FixedTicker(ticks=ticks, minor_ticks=[]),
                    formatter=CustomJSTickFormatter(code=fmt_code))
    ax.major_tick_in = 5
    ax.major_tick_out = 0
    ax.major_tick_line_color = "black"
    ax.major_tick_line_width = 1
    ax.minor_tick_line_color = None
    ax.axis_line_color = None
    if labelled:
        ax.major_label_text_font = FONT
        ax.major_label_text_font_size = "11px"
        ax.major_label_text_color = "black"
        ax.major_label_standoff = 7 if side == "left" else 6
    else:
        ax.major_label_text_font_size = "0px"
        ax.major_label_text_color = None
        ax.major_label_standoff = 0
    if label:
        ax.axis_label = label
        ax.axis_label_text_font = FONT
        ax.axis_label_text_font_size = "13px"
        ax.axis_label_text_font_style = "normal"
        ax.axis_label_text_color = "black"
        ax.axis_label_standoff = 11 if side == "left" else 3
    return ax


def make_panel(r, c):
    p = figure(
        frame_width=FRAME_W[c], frame_height=FRAME_H,
        x_range=Range1d(*x_limits), y_range=Range1d(*y_limits[r]),
        x_axis_type=None, y_axis_type=None,
        toolbar_location=None, output_backend="svg",
        min_border_left=LEFT_B if c == 0 else 0,
        min_border_right=RIGHT_B if c == 2 else (OVER_X if r == 2 else 0),
        min_border_top=TOP_B if r == 0 else 0,
        min_border_bottom=12 if r == 2 else (OVER_Y if r == 1 else 0),
    )
    p.background_fill_alpha = 0
    p.border_fill_alpha = 0
    p.outline_line_color = "black"
    p.outline_line_width = 2

    p.add_layout(make_axis(y_ticks[r], c == 0, y_labels[r] if c == 0 else None, "left"), "left")
    p.add_layout(make_axis(y_ticks[r], False, None, "right"), "right")
    p.add_layout(make_axis(x_ticks, r == 2, x_label if r == 2 else None, "below"), "below")
    p.add_layout(make_axis(x_ticks, False, None, "above"), "above")

    if r == 0:
        p.title.text = titles[c]
        p.title.text_color = colors[c]
        p.title.text_font = FONT
        p.title.text_font_size = "13px"
        p.title.text_font_style = "normal"
        p.title.align = "center"
        p.title.standoff = 25

    for k, vals in enumerate(panels[r][c]):
        n = len(vals)
        step = (x_limits[1] - x_limits[0]) / n
        t = np.linspace(x_limits[0], x_limits[1], n, endpoint=False) + k * step / 2
        p.scatter(t, vals, size=4.3, fill_color=colors[c], line_color=None)

    if r == 2 and c > 0:
        p.margin = (0, 0, 0, -OVER_X)
    return p


rows = []
for r in range(3):
    figs = [make_panel(r, c) for c in range(3)]
    rw = row(*figs)
    if r == 2:
        rw.margin = (-OVER_Y, 0, 0, 0)
    rows.append(rw)

layout = column(*rows)

with open("out.html", "w") as f:
    f.write(file_html(layout, INLINE))
